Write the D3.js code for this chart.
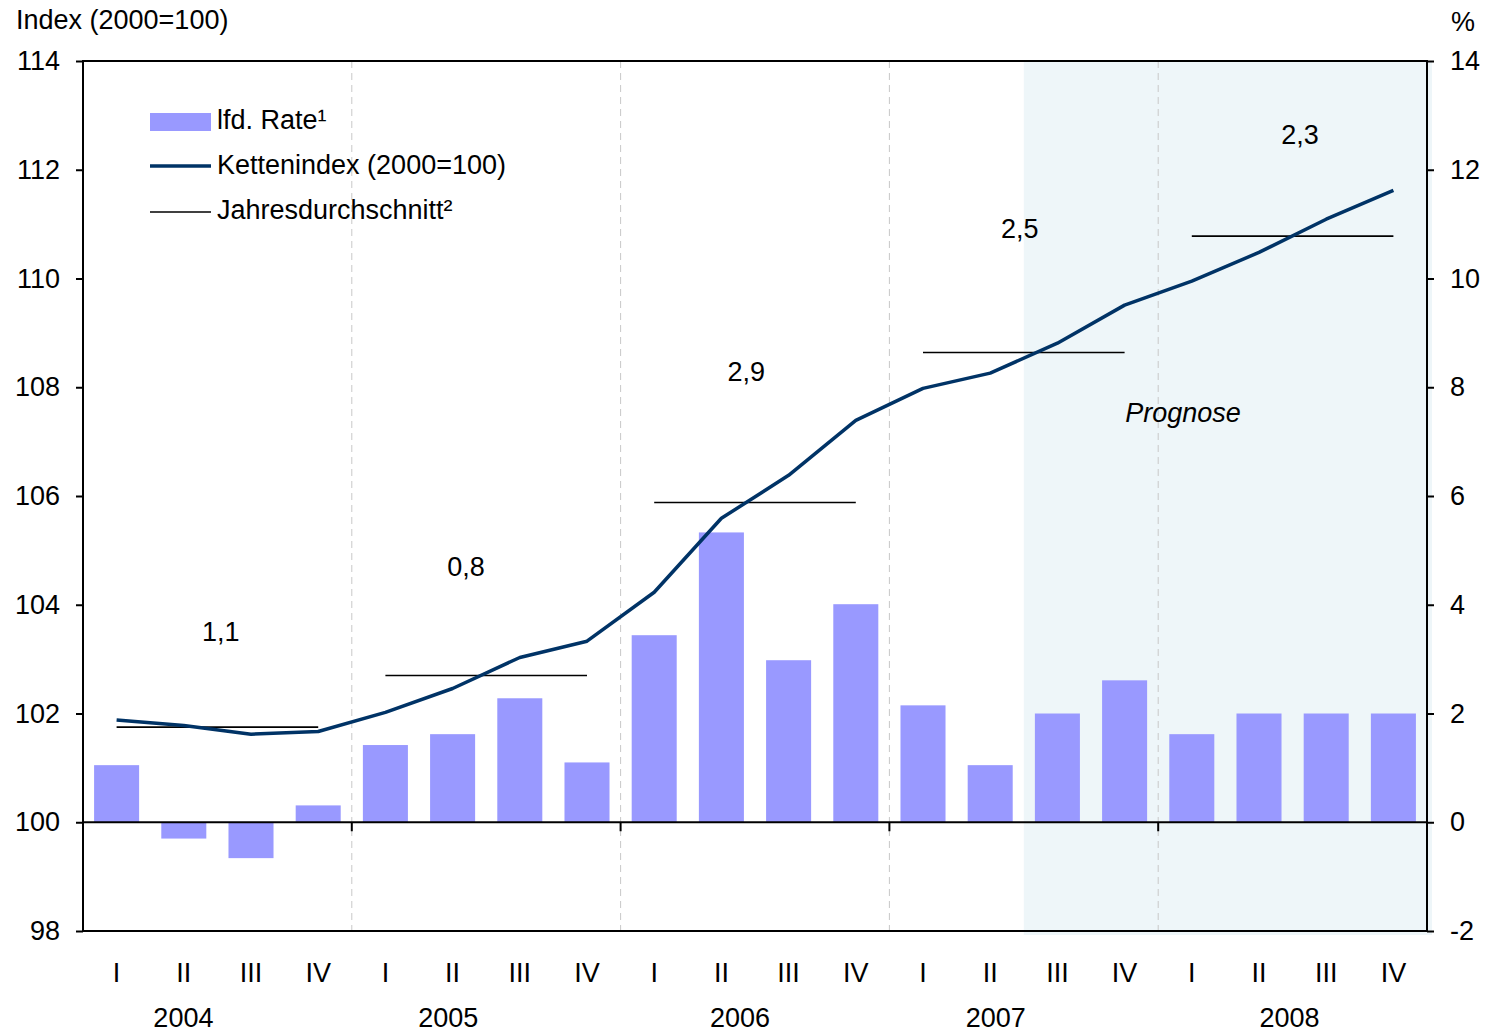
<!DOCTYPE html>
<html><head><meta charset="utf-8">
<script src="https://cdn.jsdelivr.net/npm/d3@7"></script>
<style>body{margin:0;background:#fff}svg{display:block}text{font-family:"Liberation Sans",Arial,sans-serif;fill:#000}</style>
</head><body><svg id="c" width="1490" height="1032"></svg>
<script>
const years = ["2004","2005","2006","2007","2008"];
const quarterNames = ["I","II","III","IV"];
const rate = [1.05,-0.3,-0.66,0.31, 1.42,1.62,2.28,1.1, 3.44,5.33,2.98,4.01, 2.15,1.05,2.0,2.61, 1.62,2.0,2.0,2.0];
const chainIndex = [101.88,101.78,101.62,101.67, 102.02,102.46,103.03,103.33, 104.23,105.59,106.38,107.39, 107.98,108.26,108.81,109.51, 109.95,110.48,111.09,111.62];
const annualAvg = [101.75,102.70,105.88,108.64,110.78];
const annualRateLabels = ["1,1","0,8","2,9","2,5","2,3"];
const leftTicks = [98,100,102,104,106,108,110,112,114];
const rightTicks = [-2,0,2,4,6,8,10,12,14];
const forecastStart = 14; // index of first forecast quarter (2007 III)

const svg = d3.select("#c");
const L = 83, R = 1427, T = 61, B = 931;
const n = rate.length;
const x = d3.scaleBand().domain(d3.range(n)).range([L, R]).paddingInner(0.33).paddingOuter(0.165);
const xs = d3.scaleLinear().domain([0, n]).range([L, R]);
const yL = d3.scaleLinear().domain([98, 114]).range([B, T]);
const yR = d3.scaleLinear().domain([-2, 14]).range([B, T]);
const fs = 27;

// forecast shading
svg.append("rect").attr("x", xs(forecastStart)).attr("y", T).attr("width", R - xs(forecastStart) + 5).attr("height", B - T + 4).attr("fill", "#eef6f9");

// year dividers
svg.selectAll(".yd").data(d3.range(1, years.length)).join("line")
  .attr("x1", d => xs(d * 4)).attr("x2", d => xs(d * 4)).attr("y1", T).attr("y2", B)
  .attr("stroke", "#c8c8c8").attr("stroke-width", 1).attr("stroke-dasharray", "7,5");

// bars
svg.selectAll(".bar").data(rate).join("rect")
  .attr("x", (d, i) => x(i)).attr("width", x.bandwidth())
  .attr("y", d => yR(Math.max(0, d))).attr("height", d => Math.abs(yR(d) - yR(0)))
  .attr("fill", "#9999ff");

// zero line
svg.append("line").attr("x1", L).attr("x2", R).attr("y1", yR(0)).attr("y2", yR(0)).attr("stroke", "#000").attr("stroke-width", 2);
svg.selectAll(".zt").data(d3.range(1, years.length)).join("line")
  .attr("x1", d => xs(d * 4)).attr("x2", d => xs(d * 4)).attr("y1", yR(0)).attr("y2", yR(0) + 9)
  .attr("stroke", "#000").attr("stroke-width", 2);

// annual average lines
svg.selectAll(".avg").data(annualAvg).join("line")
  .attr("x1", (d, i) => x(i * 4) + x.bandwidth() / 2).attr("x2", (d, i) => x(i * 4 + 3) + x.bandwidth() / 2)
  .attr("y1", d => yL(d)).attr("y2", d => yL(d)).attr("stroke", "#000").attr("stroke-width", 1.6);

// chain index line
svg.append("path").datum(chainIndex)
  .attr("d", d3.line().x((d, i) => x(i) + x.bandwidth() / 2).y(d => yL(d)))
  .attr("fill", "none").attr("stroke", "#003366").attr("stroke-width", 3.5).attr("stroke-linejoin", "round");

// frame
svg.append("rect").attr("x", L).attr("y", T).attr("width", R - L).attr("height", B - T).attr("fill", "none").attr("stroke", "#000").attr("stroke-width", 2);

// axes
const la = svg.append("g").attr("transform", `translate(${L},0)`).call(d3.axisLeft(yL).tickValues(leftTicks).tickSize(7).tickPadding(16));
const ra = svg.append("g").attr("transform", `translate(${R},0)`).call(d3.axisRight(yR).tickValues(rightTicks).tickSize(7).tickPadding(16).tickFormat(d => String(d)));
[la, ra].forEach(g => {
  g.select(".domain").remove();
  g.selectAll("line").attr("stroke", "#000").attr("stroke-width", 2);
  g.selectAll("text").attr("font-size", fs).attr("font-family", "Liberation Sans, Arial, sans-serif").attr("fill", "#000");
});
la.selectAll("text").attr("dx", 0);

// quarter labels
svg.selectAll(".ql").data(d3.range(n)).join("text")
  .attr("x", i => x(i) + x.bandwidth() / 2).attr("y", 982)
  .attr("text-anchor", "middle").attr("font-size", fs).text(i => quarterNames[i % 4]);
// year labels
const yearLabelShift = [-34, -38, -15, -28, -3];
svg.selectAll(".yl").data(years).join("text")
  .attr("x", (d, i) => xs(i * 4 + 2) + yearLabelShift[i]).attr("y", 1027)
  .attr("text-anchor", "middle").attr("font-size", fs).text(d => d);

// annual rate labels
const labelPos = [[2.05,103.33],[5.70,104.52],[9.87,108.11],[13.94,110.74],[18.11,112.47]];
svg.selectAll(".rl").data(annualRateLabels).join("text")
  .attr("x", (d, i) => xs(labelPos[i][0])).attr("y", (d, i) => yL(labelPos[i][1]))
  .attr("text-anchor", "middle").attr("font-size", fs).text(d => d);

// Prognose
svg.append("text").attr("x", xs(16.37)).attr("y", yL(107.37)).attr("text-anchor", "middle")
  .attr("font-size", fs).attr("font-style", "italic").text("Prognose");

// axis titles
svg.append("text").attr("x", 16).attr("y", 29).attr("font-size", fs).text("Index (2000=100)");
svg.append("text").attr("x", 1475).attr("y", 31).attr("text-anchor", "end").attr("font-size", fs).text("%");

// legend
const lg = svg.append("g");
lg.append("rect").attr("x", 150).attr("y", 113).attr("width", 61).attr("height", 18).attr("fill", "#9999ff");
lg.append("line").attr("x1", 150).attr("x2", 211).attr("y1", 166).attr("y2", 166).attr("stroke", "#003366").attr("stroke-width", 3.5);
lg.append("line").attr("x1", 150).attr("x2", 211).attr("y1", 212).attr("y2", 212).attr("stroke", "#000").attr("stroke-width", 1.6);
const legendTexts = ["lfd. Rate¹", "Kettenindex (2000=100)", "Jahresdurchschnitt²"];
lg.selectAll("text").data(legendTexts).join("text")
  .attr("x", 217).attr("y", (d, i) => 129 + i * 45).attr("font-size", fs).text(d => d);
</script></body></html>
